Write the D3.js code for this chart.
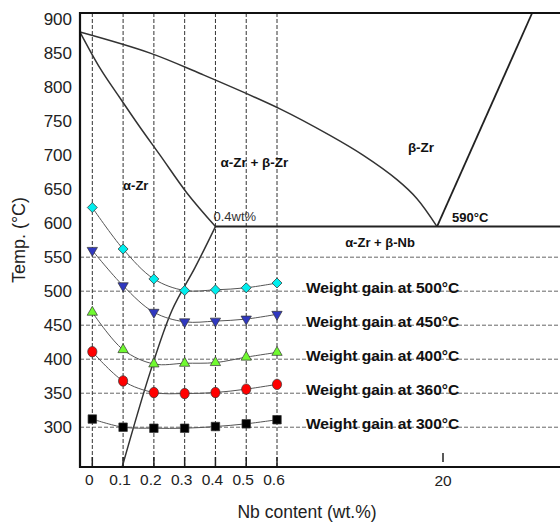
<!DOCTYPE html>
<html>
<head>
<meta charset="utf-8">
<script src="https://cdn.jsdelivr.net/npm/d3@7"></script>
<style>
  body { margin: 0; background: #fff; }
  text { font-family: Arial, "Liberation Sans", sans-serif; }
</style>
</head>
<body>
<script>
// x ticks (Nb wt.%) and measured points
let nbContent = [0, 0.1, 0.2, 0.3, 0.4, 0.5, 0.6];
let xTickLabels = ["0", "0.1", "0.2", "0.3", "0.4", "0.5", "0.6"];
let yTicks = [300, 350, 400, 450, 500, 550, 600, 650, 700, 750, 800, 850, 900];
let gridTemps = [300, 350, 400, 450, 500, 550];

// weight gain series, plotted on the temperature axis
let seriesNames = ["500", "450", "400", "360", "300"];
let gain500 = [623, 562, 518, 501, 502, 505, 512];
let gain450 = [560, 508, 469, 455, 456, 459, 466];
let gain400 = [469, 414, 393, 394, 395, 403, 410];
let gain360 = [411, 368, 351, 349.5, 351, 356, 363];
let gain300 = [312, 300, 298.5, 298.5, 301, 305, 311];

// phase diagram boundaries [wt.% Nb, temp]
let betaTransus = [[-0.04, 881], [0.188, 850], [0.35, 820], [0.95, 768], [6.79, 729],
    [10.65, 700], [14.62, 664], [16.96, 636], [19.3, 595]];
let alphaBoundary = [[-0.04, 881], [0.025, 828], [0.09, 784], [0.155, 741], [0.22, 700],
    [0.308, 644], [0.4, 595]];
let solvusLine = [[0.4, 595], [0.334, 535], [0.259, 472], [0.188, 381], [0.097, 241.5]];
let monotectoid = [[0.4, 595], [34, 595]];
let betaNbLine = [[19.3, 595], [30.4, 909]];

let width = 560, height = 522;
let padLeft = 80, padRight = 563, padTop = 13, padBottom = 467;

let svg = d3.select("body").append("svg")
    .attr("width", width).attr("height", height);

// broken x axis: 0-0.6 stretched, then up to ~34 wt.%
let x = d3.scaleLinear()
    .domain([-0.04, 0.6, 20, 34])
    .range([padLeft, 277, 443, padRight]);
let y = d3.scaleLinear()
    .domain([241.5, 909])
    .range([padBottom, padTop]);

// grid
svg.append("g").selectAll("line").data(gridTemps).enter().append("line")
    .attr("x1", padLeft).attr("x2", width)
    .attr("y1", d => y(d)).attr("y2", d => y(d))
    .attr("stroke", "#666").attr("stroke-width", 1)
    .attr("stroke-dasharray", "4,2");

svg.append("g").selectAll("line").data(nbContent).enter().append("line")
    .attr("x1", d => x(d)).attr("x2", d => x(d))
    .attr("y1", padTop).attr("y2", padBottom)
    .attr("stroke", "#333").attr("stroke-width", 1)
    .attr("stroke-dasharray", "4,2");

// x ticks
svg.append("g").selectAll("line").data(nbContent).enter().append("line")
    .attr("x1", d => x(d)).attr("x2", d => x(d))
    .attr("y1", padBottom - 10).attr("y2", padBottom)
    .attr("stroke", "#222").attr("stroke-width", 1.5);
svg.append("line")
    .attr("x1", x(20)).attr("x2", x(20))
    .attr("y1", padBottom - 14).attr("y2", padBottom - 5)
    .attr("stroke", "#222").attr("stroke-width", 1.5);

// phase diagram
let phaseLine = d3.line()
    .x(d => x(d[0])).y(d => y(d[1]))
    .curve(d3.curveCatmullRom);

[betaTransus, alphaBoundary, solvusLine].forEach(pts => {
    svg.append("path").attr("d", phaseLine(pts))
        .attr("fill", "none").attr("stroke", "#333").attr("stroke-width", 1.5);
});
svg.append("path").attr("d", d3.line().x(d => x(d[0])).y(d => y(d[1]))(monotectoid))
    .attr("fill", "none").attr("stroke", "#222").attr("stroke-width", 2);
svg.append("path").attr("d", d3.line().x(d => x(d[0])).y(d => y(d[1]))(betaNbLine))
    .attr("fill", "none").attr("stroke", "#222").attr("stroke-width", 1.8);

// series
let series = [gain500, gain450, gain400, gain360, gain300];
let markers = [
    {sym: d3.symbolSquare, size: 50, rot: 45, fill: "#00eeee"},
    {sym: d3.symbolTriangle, size: 46, rot: 180, fill: "#3038c0"},
    {sym: d3.symbolTriangle, size: 46, rot: 0, fill: "#70fa30"},
    {sym: d3.symbolCircle, size: 0, rot: 0, fill: "#ff0000"},
    {sym: d3.symbolSquare, size: 72, rot: 0, fill: "#000000"}
];

let gainLine = d3.line()
    .x((d, i) => x(nbContent[i])).y(d => y(d))
    .curve(d3.curveCatmullRom);

series.forEach((vals, k) => {
    svg.append("path").attr("d", gainLine(vals))
        .attr("fill", "none").attr("stroke", "#555").attr("stroke-width", 1);
});

series.forEach((vals, k) => {
    let m = markers[k];
    let g = svg.append("g");
    if (m.sym === d3.symbolCircle) {
        g.selectAll("ellipse").data(vals).enter().append("ellipse")
            .attr("cx", (d, i) => x(nbContent[i])).attr("cy", d => y(d))
            .attr("rx", 4.6).attr("ry", 5.2)
            .attr("fill", m.fill).attr("stroke", "#333").attr("stroke-width", 0.7);
    } else {
        g.selectAll("path").data(vals).enter().append("path")
            .attr("d", d3.symbol().type(m.sym).size(m.size))
            .attr("transform", (d, i) => "translate(" + x(nbContent[i]) + "," + y(d) + ") rotate(" + m.rot + ")")
            .attr("fill", m.fill).attr("stroke", "#333").attr("stroke-width", 0.7);
    }
});

// series labels sit on the nearest grid line to each series' minimum
series.forEach((vals, k) => {
    let level = Math.round(d3.min(vals) / 50) * 50;
    svg.append("text")
        .attr("x", x(0.6) + 29).attr("y", y(level) + 2)
        .attr("font-size", "15.5px").attr("font-weight", "bold").attr("fill", "#111")
        .text("Weight gain at " + seriesNames[k] + "°C");
});

// region labels
let regionText = (tx, ty, txt, opts) => {
    svg.append("text").attr("x", tx).attr("y", ty)
        .attr("font-size", opts.size).attr("font-weight", opts.weight || "bold")
        .attr("text-anchor", opts.anchor || "start").attr("fill", opts.fill || "#111")
        .text(txt);
};
regionText(x(0.1), 190, "α-Zr", {size: "13px"});
regionText(x(0.4) + 5, 167, "α-Zr + β-Zr", {size: "13.5px"});
regionText(421, 152, "β-Zr", {size: "13.5px", anchor: "middle"});
regionText(x(19.3) + 15, 221.5, "590°C", {size: "13px"});
regionText(380, 247, "α-Zr + β-Nb", {size: "13px", anchor: "middle"});
regionText(x(0.4) - 2, 220.5, "0.4wt%", {size: "13px", weight: "normal", fill: "#333"});

// frame
svg.append("path")
    .attr("d", "M" + width + "," + padTop + "H" + padLeft + "V" + padBottom + "H" + width)
    .attr("fill", "none").attr("stroke", "#111").attr("stroke-width", 2.2);

// y tick labels
svg.append("g").selectAll("text").data(yTicks).enter().append("text")
    .attr("x", padLeft - 8).attr("y", d => y(d)).attr("dy", "0.35em")
    .attr("text-anchor", "end").attr("font-size", "17px").attr("fill", "#222")
    .text(d => d);

// x tick labels
svg.append("g").selectAll("text").data(xTickLabels).enter().append("text")
    .attr("x", (d, i) => x(nbContent[i]) - 3).attr("y", 485)
    .attr("text-anchor", "middle").attr("font-size", "15.5px").attr("fill", "#222")
    .text(d => d);
svg.append("text").attr("x", x(20)).attr("y", 486)
    .attr("text-anchor", "middle").attr("font-size", "15.5px").attr("fill", "#222")
    .text("20");

// axis titles
svg.append("text").attr("x", 307).attr("y", 518)
    .attr("text-anchor", "middle").attr("font-size", "17.5px").attr("fill", "#222")
    .text("Nb content (wt.%)");
svg.append("text")
    .attr("transform", "translate(25,240) rotate(-90)")
    .attr("text-anchor", "middle").attr("font-size", "18px").attr("fill", "#222")
    .text("Temp. (°C)");
</script>
</body>
</html>
